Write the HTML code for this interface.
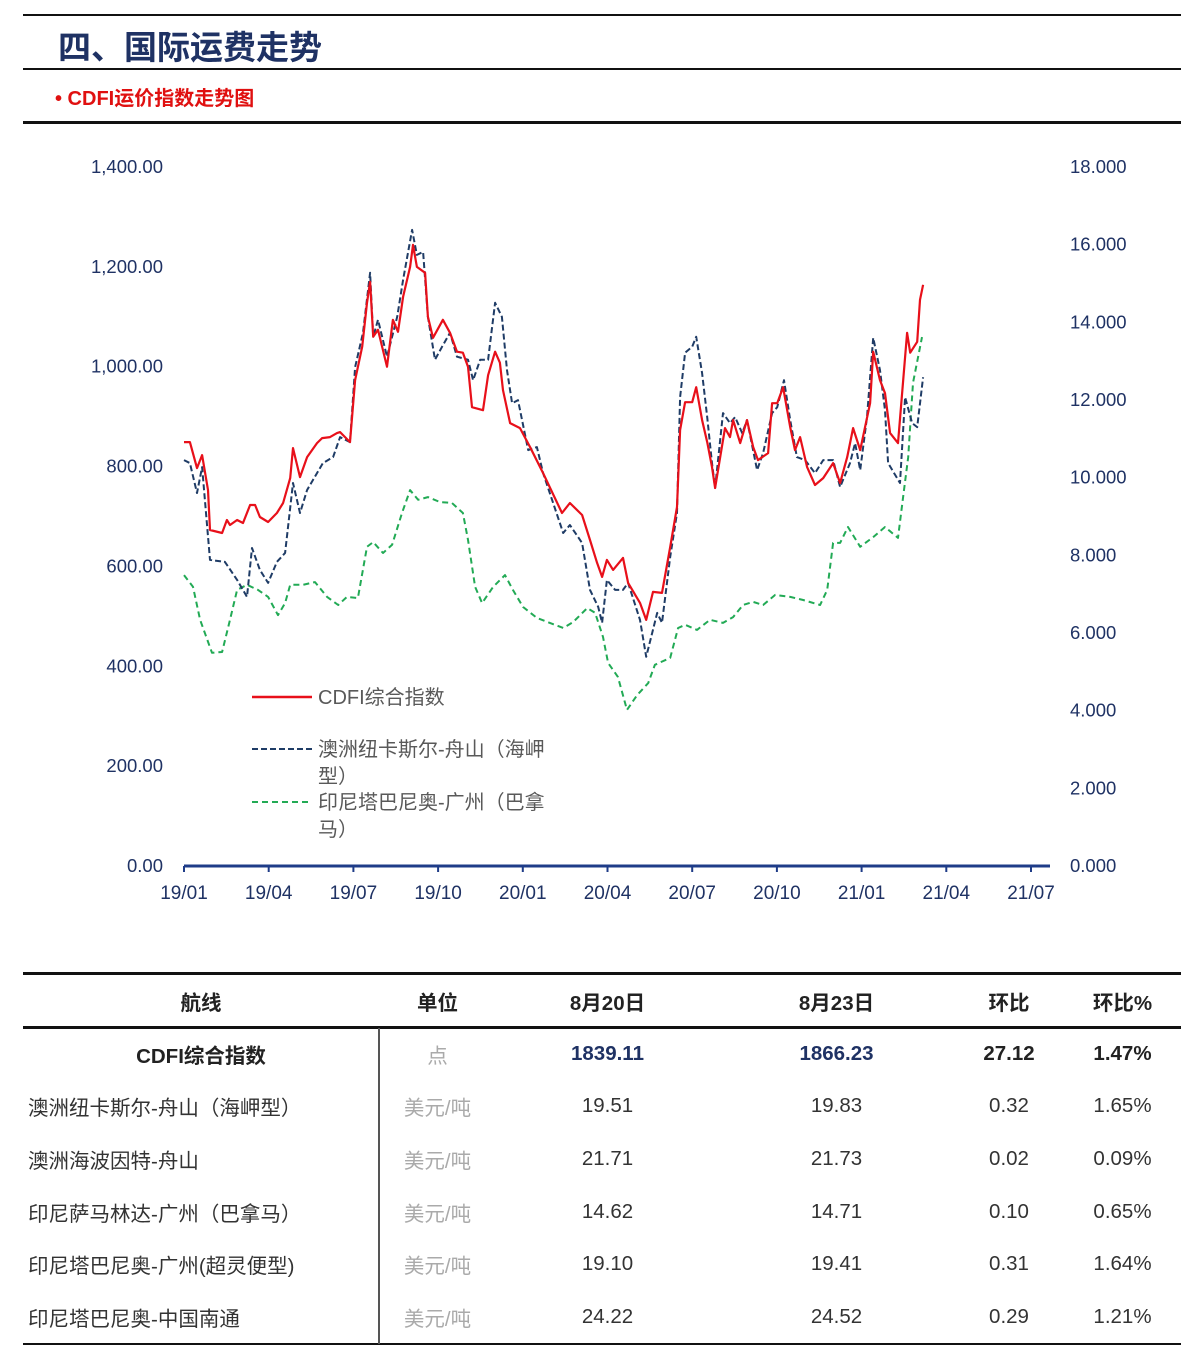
<!DOCTYPE html>
<html><head><meta charset="utf-8">
<style>
body{margin:0;background:#fff;width:1200px;height:1359px;position:relative;overflow:hidden;font-family:"Liberation Sans","Noto Sans CJK SC",sans-serif}
.hl{position:absolute;left:23px;width:1158px;background:#111}
.t{position:absolute;white-space:nowrap}
table{position:absolute;left:23px;top:975px;width:1158px;border-collapse:collapse;font-size:20.5px;color:#333}
td{height:52.6px;padding:0;text-align:center}
</style></head><body>
<div class="hl" style="top:14px;height:2px"></div>
<div class="t" style="left:58px;top:21px;font-size:33px;font-weight:bold;color:#1f3264">四、国际运费走势</div>
<div class="hl" style="top:68px;height:2px"></div>
<div class="t" style="left:55px;top:82px;font-size:20px;font-weight:bold;color:#e01010">• CDFI运价指数走势图</div>
<div class="hl" style="top:121px;height:3px"></div>

<svg id="chart" style="position:absolute;left:0;top:0" width="1200" height="960"></svg>

<div class="hl" style="top:972px;height:3px"></div>
<div class="hl" style="top:1026px;height:3px"></div>
<div class="hl" style="top:1343px;height:2px"></div>
<div style="position:absolute;left:378px;top:1028px;width:2px;height:316px;background:#555"></div>
<table>
<colgroup><col style="width:356px"><col style="width:117px"><col style="width:223px"><col style="width:235px"><col style="width:110px"><col></colgroup>
<tr style="font-weight:bold;color:#222"><td>航线</td><td>单位</td><td>8月20日</td><td>8月23日</td><td>环比</td><td>环比%</td></tr>
<tr style="font-weight:bold;color:#222"><td>CDFI综合指数</td><td style="color:#aaa;font-weight:normal">点</td><td style="color:#1f3264">1839.11</td><td style="color:#1f3264">1866.23</td><td>27.12</td><td>1.47%</td></tr>
<tr><td style="text-align:left;padding-left:5px">澳洲纽卡斯尔-舟山（海岬型）</td><td style="color:#aaa">美元/吨</td><td>19.51</td><td>19.83</td><td>0.32</td><td>1.65%</td></tr>
<tr><td style="text-align:left;padding-left:5px">澳洲海波因特-舟山</td><td style="color:#aaa">美元/吨</td><td>21.71</td><td>21.73</td><td>0.02</td><td>0.09%</td></tr>
<tr><td style="text-align:left;padding-left:5px">印尼萨马林达-广州（巴拿马）</td><td style="color:#aaa">美元/吨</td><td>14.62</td><td>14.71</td><td>0.10</td><td>0.65%</td></tr>
<tr><td style="text-align:left;padding-left:5px">印尼塔巴尼奥-广州(超灵便型)</td><td style="color:#aaa">美元/吨</td><td>19.10</td><td>19.41</td><td>0.31</td><td>1.64%</td></tr>
<tr><td style="text-align:left;padding-left:5px">印尼塔巴尼奥-中国南通</td><td style="color:#aaa">美元/吨</td><td>24.22</td><td>24.52</td><td>0.29</td><td>1.21%</td></tr>
</table>

<script>
const xTickLabels=["19/01","19/04","19/07","19/10","20/01","20/04","20/07","20/10","21/01","21/04","21/07"];
const leftTickLabels=["0.00","200.00","400.00","600.00","800.00","1,000.00","1,200.00","1,400.00"];
const rightTickLabels=["0.000","2.000","4.000","6.000","8.000","10.000","12.000","14.000","16.000","18.000"];
// months since 2019-01
const redMonths=[0,0.21,0.46,0.64,0.85,0.92,1.35,1.52,1.63,1.88,2.09,2.34,2.52,2.69,2.98,3.29,3.51,3.76,3.86,4.11,4.36,4.71,4.89,5.17,5.42,5.53,5.88,6.06,6.31,6.48,6.59,6.70,6.87,7.19,7.40,7.58,7.76,8.01,8.11,8.25,8.54,8.64,8.82,9.17,9.42,9.67,9.88,10.06,10.20,10.59,10.77,11.02,11.19,11.30,11.55,11.90,12.26,12.72,13.39,13.67,14.10,14.38,14.63,14.81,14.98,15.20,15.55,15.73,16.15,16.37,16.61,16.93,17.22,17.46,17.57,17.75,18.00,18.14,18.35,18.53,18.70,18.81,18.99,19.16,19.34,19.45,19.70,19.94,20.16,20.33,20.69,20.83,21.01,21.22,21.47,21.64,21.82,22.07,22.35,22.64,22.99,23.24,23.49,23.70,23.95,24.30,24.41,24.65,24.83,25.01,25.29,25.61,25.72,25.97,26.07,26.18];
const redValues=[849,849,797,823,753,673,667,693,683,693,687,723,723,699,689,707,727,777,837,779,819,847,857,859,867,869,849,973,1040,1128,1170,1060,1074,1000,1094,1070,1140,1200,1244,1200,1188,1100,1058,1094,1068,1030,1028,1000,919,913,983,1030,1008,953,887,877,839,787,707,727,703,653,607,579,613,593,617,567,527,493,549,547,639,719,873,929,929,959,893,849,799,757,819,877,859,893,847,893,839,813,827,927,927,959,879,833,859,799,763,777,807,767,819,877,833,927,1030,973,947,867,847,1068,1028,1050,1134,1164];
const navyMonths=[0,0.21,0.46,0.64,0.92,1.45,1.88,2.23,2.41,2.69,2.98,3.29,3.58,3.86,4.11,4.36,4.92,5.28,5.53,5.88,6.06,6.34,6.59,6.70,6.87,7.19,7.55,7.76,8.08,8.25,8.47,8.64,8.89,9.14,9.42,9.67,10.06,10.24,10.49,10.77,11.02,11.26,11.44,11.62,11.83,12.19,12.50,12.72,13.43,13.67,14.10,14.38,14.67,14.81,14.98,15.27,15.55,15.73,16.15,16.37,16.76,16.93,17.22,17.46,17.57,17.75,18.00,18.14,18.35,18.53,18.70,18.81,19.09,19.34,19.52,19.77,19.94,20.30,20.51,20.83,21.01,21.25,21.47,21.71,22.00,22.35,22.64,22.99,23.24,23.59,23.77,23.95,24.19,24.41,24.65,24.83,24.94,25.36,25.54,25.79,25.97,26.18];
const navyValues=[813,807,747,799,613,609,573,539,637,593,567,609,627,767,707,753,807,819,859,849,999,1068,1188,1060,1094,1020,1100,1174,1274,1224,1230,1100,1014,1040,1068,1020,1014,973,1014,1014,1128,1100,993,927,933,833,839,787,667,683,647,553,519,487,573,553,553,567,493,419,507,487,619,707,939,1028,1040,1060,987,899,807,757,907,887,899,867,893,793,827,907,919,973,893,819,813,787,813,813,759,807,847,793,899,1058,993,913,807,767,939,887,879,979];
const greenMonths=[0,0.32,0.57,0.99,1.35,1.63,1.88,2.23,2.62,2.98,3.33,3.58,3.76,4.22,4.64,5.07,5.46,5.77,6.16,6.48,6.70,7.05,7.37,7.72,8.01,8.29,8.64,9.07,9.49,9.88,10.06,10.31,10.56,10.95,11.37,11.65,12.01,12.50,12.96,13.43,13.78,14.28,14.56,14.84,15.02,15.37,15.69,16.05,16.44,16.68,17.22,17.50,17.75,18.17,18.63,19.09,19.45,19.80,20.16,20.51,20.94,21.47,21.93,22.53,22.78,22.99,23.24,23.52,23.95,24.41,24.83,25.29,25.47,25.65,25.82,26.14];
const greenValues=[7.49,7.19,6.34,5.49,5.51,6.34,7.11,7.24,7.11,6.93,6.46,6.77,7.24,7.24,7.31,6.93,6.72,6.93,6.90,8.22,8.34,8.06,8.27,9.09,9.68,9.43,9.50,9.37,9.35,9.09,8.40,7.19,6.77,7.19,7.49,7.11,6.67,6.39,6.26,6.13,6.28,6.64,6.52,5.90,5.23,4.87,4.02,4.40,4.71,5.18,5.36,6.13,6.21,6.08,6.34,6.26,6.41,6.72,6.80,6.72,6.98,6.93,6.85,6.72,7.11,8.32,8.32,8.73,8.22,8.47,8.73,8.45,9.50,10.53,12.44,13.62];

const NS="http://www.w3.org/2000/svg";
const svg=document.getElementById('chart');
const X0=184,X1=1031,Y0=866,Y1=167;
const xS=m=>X0+(X1-X0)*m/30;
const yL=v=>Y0-(Y0-Y1)*v/1400;
const yR=v=>Y0-(Y0-Y1)*v/18;
function mk(tag,attrs,name){const e=document.createElementNS(NS,tag);for(const k in attrs)e.setAttribute(k,attrs[k]);


svg.appendChild(e);return e;}
const tickFont='font-family:"Liberation Sans",sans-serif;font-size:18.5px;fill:#1f3264';
const xFont='font-family:"Liberation Sans",sans-serif;font-size:19px;fill:#1f3264';
leftTickLabels.forEach((t,i)=>{const e=mk('text',{x:163,y:yL(i*200)+6,'text-anchor':'end',style:tickFont},'left-tick-label');e.textContent=t;});
rightTickLabels.forEach((t,i)=>{const e=mk('text',{x:1070,y:yR(i*2)+6,style:tickFont},'right-tick-label');e.textContent=t;});
mk('line',{x1:X0,y1:Y0,x2:1050,y2:Y0,stroke:'#1f3c88','stroke-width':3},'x-axis-line');
xTickLabels.forEach((t,i)=>{const x=xS(i*3);
mk('line',{x1:x,y1:Y0,x2:x,y2:Y0+6,stroke:'#1f3c88','stroke-width':2},'x-tick');
const e=mk('text',{x:x,y:Y0+33,'text-anchor':'middle',style:xFont},'x-tick-label');e.textContent=t;});
function line(ms,vs,ys,attrs,name){const d=ms.map((m,i)=>(i?'L':'M')+xS(m).toFixed(1)+','+ys(vs[i]).toFixed(1)).join('');
mk('path',Object.assign({d:d,fill:'none','stroke-linejoin':'round'},attrs),name);}
line(greenMonths,greenValues,yR,{stroke:'#22aa55','stroke-width':2,'stroke-dasharray':'6,4'},'series-indonesia-guangzhou-panamax');
line(navyMonths,navyValues,yL,{stroke:'#1f3c66','stroke-width':2,'stroke-dasharray':'6,3'},'series-newcastle-zhoushan-capesize');
line(redMonths,redValues,yL,{stroke:'#e8101a','stroke-width':2.2},'series-cdfi-index');
// legend
const lf='font-family:"Liberation Sans","Noto Sans CJK SC",sans-serif;font-size:20px;fill:#595959';
mk('line',{x1:252,y1:697,x2:312,y2:697,stroke:'#e8101a','stroke-width':2.5},'legend-swatch-cdfi');
let e=mk('text',{x:318,y:704,style:lf},'legend-label-cdfi');e.textContent='CDFI综合指数';
mk('line',{x1:252,y1:749,x2:312,y2:749,stroke:'#1f3c66','stroke-width':2,'stroke-dasharray':'6,3'},'legend-swatch-capesize');
e=mk('text',{x:318,y:756,style:lf},'legend-label-capesize');e.textContent='澳洲纽卡斯尔-舟山（海岬';
e=mk('text',{x:318,y:783,style:lf},'legend-label-capesize-2');e.textContent='型）';
mk('line',{x1:252,y1:802,x2:312,y2:802,stroke:'#22aa55','stroke-width':2,'stroke-dasharray':'6,4'},'legend-swatch-panamax');
e=mk('text',{x:318,y:809,style:lf},'legend-label-panamax');e.textContent='印尼塔巴尼奥-广州（巴拿';
e=mk('text',{x:318,y:836,style:lf},'legend-label-panamax-2');e.textContent='马）';
</script>
</body></html>
